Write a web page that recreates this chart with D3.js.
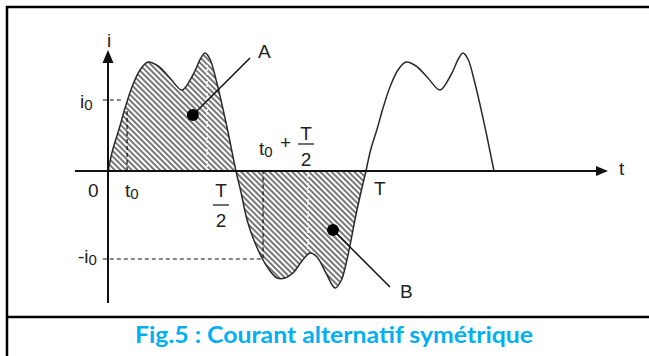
<!DOCTYPE html>
<html>
<head>
<meta charset="utf-8">
<script src="https://cdn.jsdelivr.net/npm/d3@7/dist/d3.min.js"></script>
<style>
  body { margin: 0; background: #fff; }
  text { font-family: "Liberation Sans Narrow", "Liberation Sans", Arial, sans-serif; fill: #222; }
</style>
</head>
<body>
<div id="chart"></div>
<script>
// one period of i(t): t in fractions of T, i in arbitrary units
const posT = [0, 0.019, 0.043, 0.066, 0.093, 0.124, 0.155, 0.194, 0.240, 0.287, 0.329, 0.360, 0.376, 0.395, 0.422, 0.461, 0.496];
const posI = [0, 0.22, 0.42, 0.63, 0.84, 1.01, 1.09, 1.05, 0.93, 0.81, 0.96, 1.13, 1.18, 1.12, 0.88, 0.44, 0];
const negT = [0.496, 0.516, 0.539, 0.570, 0.601, 0.628, 0.655, 0.686, 0.717, 0.752, 0.783, 0.810, 0.845, 0.880, 0.903, 0.926, 0.965, 1.0];
const negI = [0, -0.22, -0.49, -0.72, -0.89, -1.00, -1.07, -1.07, -1.02, -0.90, -0.82, -0.86, -1.02, -1.17, -1.10, -0.89, -0.39, 0];

// dashed guides
const t0 = 0.074, i0 = 0.71;          // t0 / i0
const tHalf0 = 0.601, iNeg = -0.88;   // t0 + T/2 / -i0
// white dotted guides inside the hatch [t, i]
const dotted = [[0.384, 1.10], [0.775, -0.80]];
// pointers: dot position [t, i] and label
const pointers = [
  {t: 0.329, i: 0.56, label: "A"},
  {t: 0.872, i: -0.59, label: "B"}
];
const caption = "Fig.5 : Courant alternatif symétrique";

const W = 649, H = 356;
const x = d3.scaleLinear().domain([0, 1]).range([108, 366]);
const y = d3.scaleLinear().domain([-1, 1]).range([271, 71]);

const svg = d3.select("#chart").append("svg")
    .attr("width", W).attr("height", H);

// hatch pattern
const defs = svg.append("defs");
defs.append("pattern")
    .attr("id", "hatch")
    .attr("patternUnits", "userSpaceOnUse")
    .attr("width", 4).attr("height", 4)
    .attr("patternTransform", "rotate(-45)")
  .append("line")
    .attr("x1", 1).attr("y1", 0).attr("x2", 1).attr("y2", 4)
    .attr("stroke", "#4a4a4a").attr("stroke-width", 1.5);

// frame
svg.append("path")
    .attr("d", "M7,356 L7,7 L649,7 M7,317 L649,317")
    .attr("fill", "none").attr("stroke", "#000").attr("stroke-width", 2.5);

const pos = posT.map((t, k) => [t, posI[k]]);
const neg = negT.map((t, k) => [t, negI[k]]);
const third = posT.map((t, k) => [t + 1, posI[k]]);

const line = d3.line()
    .curve(d3.curveCatmullRom.alpha(0.5))
    .x(d => x(d[0])).y(d => y(d[1]));
const area = d3.area()
    .curve(d3.curveCatmullRom.alpha(0.5))
    .x(d => x(d[0])).y0(y(0)).y1(d => y(d[1]));

// hatched areas A and B
[pos, neg].forEach(seg => {
  svg.append("path").datum(seg)
      .attr("d", area)
      .attr("fill", "url(#hatch)");
});

// white dotted guides
dotted.forEach(d => {
  svg.append("line")
      .attr("x1", x(d[0])).attr("x2", x(d[0]))
      .attr("y1", y(0)).attr("y2", y(d[1]))
      .attr("stroke", "#fff").attr("stroke-width", 1.5)
      .attr("stroke-dasharray", "2,2");
});

// black dashed guides
const dash = svg.append("g")
    .attr("stroke", "#111").attr("stroke-width", 1.2)
    .attr("stroke-dasharray", "4,3").attr("fill", "none");
dash.append("path")
    .attr("d", `M${x(-0.02)},${y(i0)} L${x(t0 - 0.02)},${y(i0)} M${x(t0)},${y(0)} L${x(t0)},${y(0.6)}`);
dash.append("path")
    .attr("d", `M${x(-0.02)},${y(iNeg)} L${x(tHalf0)},${y(iNeg)} L${x(tHalf0)},${y(0)}`);

// curve
svg.append("path").datum(pos.concat(neg.slice(1)))
    .attr("d", line)
    .attr("fill", "none").attr("stroke", "#2a2a2a").attr("stroke-width", 1.5);
svg.append("path").datum(third)
    .attr("d", line)
    .attr("fill", "none").attr("stroke", "#2a2a2a").attr("stroke-width", 1.5);

// axes
const xEnd = x(1.938), yTop = y(1.21);
svg.append("line")
    .attr("x1", x(-0.128)).attr("x2", xEnd - 8)
    .attr("y1", y(0)).attr("y2", y(0))
    .attr("stroke", "#111").attr("stroke-width", 2);
svg.append("path")
    .attr("d", `M${xEnd},${y(0)} L${xEnd - 12},${y(0) - 5} L${xEnd - 12},${y(0) + 5} Z`)
    .attr("fill", "#111");
svg.append("line")
    .attr("x1", x(0)).attr("x2", x(0))
    .attr("y1", y(-1.32)).attr("y2", yTop + 8)
    .attr("stroke", "#111").attr("stroke-width", 2);
svg.append("path")
    .attr("d", `M${x(0)},${yTop} L${x(0) - 5.5},${yTop + 13} L${x(0) + 5.5},${yTop + 13} Z`)
    .attr("fill", "#111");

// labels
function label(px, py, main, sub, anchor) {
  const t = svg.append("text")
      .attr("x", px).attr("y", py)
      .attr("font-size", 19)
      .attr("text-anchor", anchor || "start");
  t.append("tspan").text(main);
  if (sub) t.append("tspan").attr("font-size", 15).attr("dy", 2).text(sub);
  return t;
}
function frac(cx, barY, num, den, gap) {
  svg.append("text").attr("x", cx).attr("y", barY - gap)
      .attr("font-size", 19).attr("text-anchor", "middle").text(num);
  svg.append("line")
      .attr("x1", cx - 8).attr("x2", cx + 8)
      .attr("y1", barY).attr("y2", barY)
      .attr("stroke", "#222").attr("stroke-width", 1.3);
  svg.append("text").attr("x", cx).attr("y", barY + 22)
      .attr("font-size", 19).attr("text-anchor", "middle").text(den);
}

label(x(0) + 1, yTop - 3, "i", null, "middle");
label(xEnd + 11, y(0) + 4, "t");
label(x(0) - 20, y(0) + 26, "0");
label(x(t0) - 2, y(0) + 26, "t", "0");
frac(x(0.5) - 16, y(0) + 34, "T", "2", 8);
label(x(1) + 8, y(0) + 24, "T");
label(x(0) - 28, y(i0) + 8, "i", "0");
label(x(0) - 30, y(iNeg) + 4, "-i", "0");
label(x(tHalf0) - 4, y(0) - 16, "t", "0");
label(x(tHalf0) + 17, y(0) - 22, "+");
frac(x(tHalf0) + 43, y(0) - 27, "T", "2", 4);

// pointers
const labelPos = [[250, 58, 258, 58], [390, 287, 400, 298]];
pointers.forEach((p, k) => {
  const lp = labelPos[k];
  svg.append("line")
      .attr("x1", x(p.t)).attr("y1", y(p.i))
      .attr("x2", lp[0]).attr("y2", lp[1])
      .attr("stroke", "#111").attr("stroke-width", 1.5);
  svg.append("circle")
      .attr("cx", x(p.t)).attr("cy", y(p.i)).attr("r", 6)
      .attr("fill", "#000");
  label(lp[2], lp[3], p.label);
});

// caption
svg.append("text")
    .attr("x", 334).attr("y", 343)
    .attr("text-anchor", "middle")
    .attr("textLength", 398).attr("lengthAdjust", "spacingAndGlyphs")
    .style("font-family", "Lato, 'Open Sans', sans-serif")
    .style("font-weight", "bold").style("font-size", "22px")
    .style("fill", "#00b0f0")
    .text(caption);
</script>
</body>
</html>
